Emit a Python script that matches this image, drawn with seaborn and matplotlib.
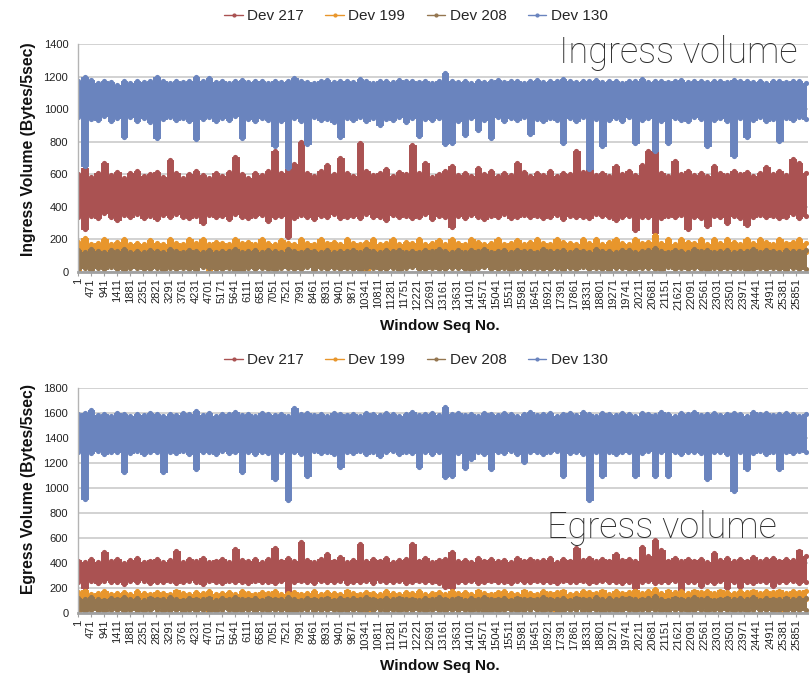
import numpy as np
import pandas as pd
import matplotlib
matplotlib.use("Agg")
import matplotlib.pyplot as plt
from matplotlib.lines import Line2D
import seaborn as sns

devices = ["Dev 217", "Dev 199", "Dev 208", "Dev 130"]
colors = ["#AA5252", "#E8962C", "#947650", "#6A84BE"]

# Each block of 236 windows is summarised by its low and high reading.
block_start = np.arange(1, 26200, 236)
seq_ticks = list(range(1, 25852, 470))

# ---------------- Ingress (Bytes/5sec) ----------------
in_130_hi = [1170, 1195, 1180, 1160, 1175, 1165, 1150, 1170, 1160, 1175, 1165, 1170, 1195, 1170,
             1160, 1175, 1165, 1170, 1195, 1170, 1190, 1165, 1175, 1160, 1170, 1180, 1165, 1175,
             1170, 1160, 1175, 1165, 1170, 1190, 1175, 1165, 1160, 1175, 1180, 1165, 1170, 1175,
             1165, 1185, 1170, 1160, 1175, 1170, 1165, 1180, 1170, 1175, 1165, 1170, 1160, 1175,
             1220, 1175, 1165, 1170, 1160, 1175, 1165, 1170, 1180, 1165, 1175, 1170, 1160, 1175,
             1180, 1165, 1175, 1170, 1185, 1170, 1165, 1175, 1170, 1180, 1165, 1175, 1170, 1160,
             1175, 1170, 1185, 1165, 1175, 1170, 1165, 1175, 1180, 1165, 1170, 1175, 1165, 1175,
             1170, 1165, 1180, 1170, 1175, 1165, 1170, 1160, 1175, 1170, 1165, 1175, 1170, 1160]
in_130_lo = [950, 650, 940, 935, 955, 925, 945, 830, 950, 930, 945, 920, 820, 940,
             950, 935, 945, 925, 815, 940, 950, 930, 945, 935, 955, 820, 940, 925,
             945, 935, 775, 930, 640, 945, 925, 785, 950, 935, 940, 920, 830, 945,
             935, 950, 925, 945, 905, 940, 935, 950, 920, 945, 835, 940, 935, 945,
             785, 795, 930, 840, 945, 870, 935, 820, 950, 925, 945, 935, 950, 850,
             940, 925, 945, 935, 795, 945, 930, 950, 630, 940, 775, 935, 945, 925,
             950, 795, 935, 945, 740, 930, 795, 945, 935, 925, 950, 940, 775, 935,
             945, 930, 710, 945, 830, 935, 950, 925, 940, 805, 945, 935, 950, 940]
in_217_hi = [600, 640, 585, 610, 670, 595, 615, 580, 605, 620, 590, 600, 615, 585,
             690, 610, 580, 600, 620, 595, 575, 610, 590, 615, 705, 600, 580, 610,
             595, 620, 740, 605, 630, 665, 800, 610, 590, 620, 660, 600, 700, 610,
             590, 795, 620, 595, 610, 630, 590, 615, 600, 780, 610, 670, 585, 600,
             620, 650, 595, 610, 590, 640, 600, 620, 590, 610, 595, 670, 615, 590,
             610, 595, 620, 590, 610, 600, 740, 615, 640, 595, 610, 590, 650, 600,
             620, 595, 660, 740, 810, 610, 590, 680, 600, 620, 595, 610, 590, 650,
             610, 595, 620, 600, 615, 590, 610, 645, 600, 620, 595, 695, 670, 610]
in_217_lo = [340, 265, 345, 330, 360, 335, 320, 350, 340, 355, 330, 345, 325, 350,
             335, 355, 340, 330, 345, 300, 350, 335, 345, 325, 355, 340, 330, 345,
             350, 315, 335, 345, 215, 330, 350, 340, 325, 345, 335, 355, 330, 340,
             345, 330, 355, 335, 340, 320, 350, 335, 345, 330, 340, 355, 325, 345,
             335, 275, 345, 330, 350, 340, 325, 345, 335, 355, 330, 340, 350, 335,
             345, 330, 340, 350, 325, 345, 335, 340, 330, 355, 345, 335, 320, 340,
             345, 255, 335, 340, 240, 330, 345, 335, 350, 265, 340, 330, 285, 345,
             335, 300, 345, 330, 290, 340, 350, 335, 345, 330, 340, 355, 330, 345]
in_199_hi = [185, 210, 175, 180, 205, 175, 185, 200, 175, 180, 170, 195, 180, 175,
             205, 180, 175, 200, 180, 205, 175, 185, 180, 175, 200, 180, 185, 170,
             205, 180, 175, 195, 180, 175, 205, 180, 175, 200, 180, 185, 175, 205,
             180, 175, 185, 200, 175, 180, 205, 175, 185, 180, 200, 175, 180, 195,
             175, 205, 180, 175, 200, 185, 175, 180, 205, 175, 180, 195, 175, 185,
             200, 180, 175, 205, 185, 180, 175, 200, 180, 205, 175, 185, 200, 180,
             175, 205, 180, 185, 225, 180, 200, 175, 205, 185, 180, 200, 175, 205,
             180, 200, 185, 175, 205, 180, 200, 185, 175, 205, 180, 185, 200, 180]
in_199_lo = [0, 125, 120, 130, 125, 120, 130, 125, 120, 125, 130, 120, 125, 130,
             120, 125, 130, 120, 125, 130, 0, 125, 120, 130, 125, 120, 130, 125,
             120, 130, 125, 120, 55, 125, 130, 120, 125, 130, 120, 125, 130, 120,
             125, 130, 0, 125, 120, 130, 125, 120, 130, 125, 120, 125, 130, 120,
             130, 120, 125, 130, 120, 125, 130, 120, 125, 130, 120, 125, 130, 125,
             120, 130, 125, 120, 130, 125, 120, 130, 125, 120, 130, 125, 120, 130,
             125, 120, 130, 125, 120, 130, 125, 120, 130, 125, 120, 130, 125, 120,
             130, 125, 120, 130, 125, 120, 130, 125, 120, 130, 125, 120, 130, 125]
in_208_hi = [135, 125, 140, 130, 120, 135, 128, 140, 125, 132, 120, 138, 130, 125,
             140, 128, 122, 135, 130, 125, 138, 120, 132, 128, 140, 125, 130, 135,
             122, 138, 130, 125, 140, 128, 120, 135, 130, 125, 138, 122, 132, 128,
             135, 125, 140, 130, 122, 135, 128, 138, 125, 130, 120, 135, 128, 140,
             130, 125, 138, 122, 135, 128, 140, 125, 130, 135, 122, 138, 128, 130,
             125, 140, 130, 128, 135, 122, 138, 130, 125, 140, 128, 132, 125, 135,
             138, 125, 130, 135, 150, 128, 122, 138, 130, 125, 140, 128, 135, 122,
             130, 138, 125, 132, 128, 140, 122, 135, 130, 125, 138, 128, 132, 135]
in_208_lo = [20, 25, 15, 22, 18, 28, 20, 15, 25, 22, 18, 20, 25, 15,
             22, 18, 25, 20, 15, 28, 22, 18, 20, 25, 0, 0, 22, 18,
             25, 20, 15, 22, 25, 18, 20, 28, 15, 22, 20, 25, 18, 22,
             20, 15, 25, 22, 18, 20, 25, 15, 22, 28, 20, 18, 25, 20,
             18, 22, 25, 20, 15, 22, 28, 18, 20, 25, 15, 22, 20, 18,
             25, 20, 18, 22, 15, 25, 20, 28, 18, 22, 20, 15, 25, 22,
             20, 18, 25, 22, 20, 15, 28, 20, 22, 18, 25, 20, 15, 22,
             18, 25, 20, 22, 15, 20, 25, 18, 22, 20, 15, 25, 20, 18]

# ---------------- Egress (Bytes/5sec) ----------------
eg_130_hi = [1590, 1600, 1625, 1585, 1595, 1580, 1600, 1590, 1575, 1595, 1585, 1600, 1590, 1580,
             1595, 1585, 1600, 1590, 1620, 1585, 1600, 1580, 1595, 1590, 1605, 1585, 1595, 1580,
             1600, 1590, 1585, 1595, 1580, 1640, 1590, 1600, 1585, 1595, 1580, 1600, 1590, 1585,
             1595, 1580, 1600, 1590, 1585, 1600, 1590, 1580, 1595, 1605, 1585, 1590, 1600, 1585,
             1645, 1590, 1600, 1585, 1595, 1580, 1600, 1590, 1585, 1600, 1590, 1580, 1595, 1605,
             1585, 1595, 1600, 1580, 1590, 1600, 1585, 1610, 1595, 1580, 1600, 1590, 1585, 1600,
             1590, 1580, 1600, 1595, 1585, 1605, 1590, 1580, 1600, 1595, 1610, 1585, 1590, 1600,
             1585, 1595, 1600, 1590, 1580, 1605, 1590, 1600, 1585, 1595, 1600, 1590, 1580, 1595]
eg_130_lo = [1290, 910, 1280, 1295, 1270, 1285, 1290, 1130, 1280, 1295, 1275, 1290, 1285, 1130,
             1290, 1280, 1295, 1270, 1150, 1285, 1290, 1275, 1295, 1280, 1290, 1130, 1285, 1275,
             1290, 1280, 1070, 1285, 905, 1290, 1275, 1100, 1295, 1280, 1290, 1270, 1165, 1285,
             1280, 1295, 1275, 1290, 1260, 1285, 1295, 1270, 1290, 1280, 1165, 1290, 1275, 1285,
             1085, 1100, 1280, 1160, 1230, 1290, 1275, 1155, 1290, 1280, 1295, 1270, 1210, 1285,
             1290, 1275, 1285, 1295, 1100, 1280, 1290, 1270, 905, 1285, 1100, 1290, 1275, 1285,
             1290, 1100, 1280, 1295, 1100, 1285, 1095, 1290, 1275, 1285, 1290, 1280, 1075, 1290,
             1285, 1275, 975, 1290, 1150, 1280, 1295, 1270, 1285, 1150, 1290, 1280, 1295, 1285]
eg_217_hi = [420, 405, 430, 410, 490, 415, 435, 400, 425, 440, 410, 420, 430, 405,
             425, 495, 410, 430, 415, 440, 405, 420, 430, 410, 510, 425, 415, 435,
             410, 430, 520, 420, 440, 415, 570, 425, 410, 435, 470, 420, 445, 410,
             425, 550, 415, 430, 420, 440, 410, 425, 435, 550, 420, 440, 410, 425,
             435, 490, 415, 425, 410, 440, 420, 430, 415, 425, 410, 440, 420, 430,
             415, 425, 440, 410, 430, 420, 520, 425, 440, 415, 430, 420, 475, 425,
             430, 415, 530, 455, 585, 505, 420, 440, 415, 430, 420, 435, 410, 480,
             425, 440, 415, 430, 420, 445, 415, 430, 440, 420, 435, 425, 500, 455]
eg_217_lo = [250, 200, 255, 240, 260, 245, 250, 235, 255, 245, 260, 240, 250, 245,
             255, 240, 250, 260, 245, 235, 255, 250, 240, 260, 245, 250, 240, 255,
             245, 250, 240, 255, 160, 245, 260, 250, 240, 255, 245, 250, 260, 240,
             250, 245, 255, 240, 260, 250, 245, 255, 240, 250, 260, 245, 250, 240,
             210, 200, 250, 245, 255, 240, 250, 260, 245, 250, 240, 255, 245, 250,
             255, 245, 250, 240, 255, 250, 245, 260, 240, 250, 255, 245, 250, 240,
             250, 200, 245, 255, 240, 250, 245, 255, 185, 250, 245, 215, 250, 240,
             255, 200, 245, 205, 250, 240, 255, 245, 215, 250, 245, 255, 240, 250]
eg_199_hi = [165, 180, 155, 160, 175, 155, 160, 165, 155, 175, 160, 155, 165, 160,
             155, 180, 160, 155, 165, 160, 175, 155, 160, 165, 155, 175, 160, 155,
             165, 160, 175, 155, 160, 165, 155, 160, 175, 155, 165, 160, 155, 180,
             160, 155, 165, 160, 155, 175, 160, 155, 165, 160, 175, 155, 160, 165,
             155, 175, 160, 165, 155, 180, 160, 155, 165, 175, 160, 155, 180, 160,
             155, 175, 160, 165, 180, 155, 160, 175, 165, 160, 180, 155, 175, 160,
             165, 180, 160, 175, 190, 160, 180, 165, 175, 160, 180, 165, 175, 160,
             180, 165, 160, 175, 165, 180, 160, 175, 165, 180, 160, 175, 165, 180]
eg_199_lo = [0, 110, 105, 115, 110, 105, 115, 110, 105, 110, 115, 105, 110, 115,
             105, 110, 115, 105, 110, 115, 0, 110, 105, 115, 110, 105, 115, 110,
             105, 115, 110, 105, 110, 115, 105, 110, 115, 105, 110, 115, 105, 110,
             115, 105, 0, 110, 115, 105, 110, 115, 105, 110, 115, 105, 110, 115,
             110, 105, 115, 110, 105, 115, 110, 105, 115, 110, 105, 115, 110, 105,
             115, 110, 105, 0, 110, 115, 105, 110, 115, 105, 110, 115, 105, 110,
             105, 115, 110, 105, 115, 110, 105, 115, 110, 105, 115, 110, 105, 115,
             110, 105, 115, 110, 105, 115, 110, 105, 115, 0, 110, 105, 115, 110]
eg_208_hi = [120, 110, 125, 115, 108, 122, 116, 128, 112, 120, 106, 124, 116, 110,
             126, 114, 108, 122, 116, 110, 124, 106, 118, 114, 126, 110, 116, 122,
             108, 124, 116, 112, 126, 114, 106, 122, 116, 110, 124, 108, 118, 114,
             122, 110, 126, 116, 108, 122, 114, 124, 110, 116, 106, 122, 114, 126,
             116, 110, 124, 108, 122, 114, 126, 110, 116, 122, 108, 124, 114, 116,
             110, 126, 116, 114, 122, 108, 124, 116, 110, 126, 114, 118, 110, 122,
             124, 110, 116, 122, 134, 114, 108, 124, 116, 110, 126, 114, 122, 108,
             116, 124, 110, 118, 114, 126, 108, 122, 116, 110, 124, 114, 118, 122]
eg_208_lo = [22, 18, 25, 20, 15, 28, 22, 18, 25, 20, 15, 22, 28, 18,
             20, 25, 0, 22, 18, 25, 20, 15, 28, 22, 18, 20, 25, 0,
             22, 18, 25, 20, 15, 0, 22, 28, 18, 20, 25, 22, 15, 20,
             25, 18, 22, 20, 28, 15, 22, 18, 25, 20, 22, 15, 28, 20,
             18, 25, 20, 22, 15, 28, 0, 20, 18, 25, 22, 15, 20, 28,
             22, 18, 25, 20, 15, 22, 28, 18, 20, 25, 0, 22, 18, 20,
             25, 15, 22, 20, 28, 18, 0, 22, 25, 15, 20, 28, 18, 22,
             20, 25, 15, 22, 18, 28, 20, 25, 15, 22, 18, 20, 25, 22]

ingress = {"Dev 217": (in_217_lo, in_217_hi), "Dev 199": (in_199_lo, in_199_hi),
           "Dev 208": (in_208_lo, in_208_hi), "Dev 130": (in_130_lo, in_130_hi)}
egress = {"Dev 217": (eg_217_lo, eg_217_hi), "Dev 199": (eg_199_lo, eg_199_hi),
          "Dev 208": (eg_208_lo, eg_208_hi), "Dev 130": (eg_130_lo, eg_130_hi)}


def long_form(lo, hi):
    rows = []
    for s, a, b in zip(block_start, lo, hi):
        rows.append((s, a))
        rows.append((s, b))
    return pd.DataFrame(rows, columns=["seq", "volume"])


sns.set_theme(style="white")
plt.rcParams["font.family"] = ["Liberation Sans", "DejaVu Sans"]

W, H = 809, 673
fig = plt.figure(figsize=(W / 100, H / 100), dpi=100)
ax_in = fig.add_axes([78 / W, 1 - 272 / H, 730 / W, 228 / H])
ax_eg = fig.add_axes([78 / W, 1 - 613 / H, 730 / W, 225 / H])

panels = [
    (ax_in, ingress, 1400, "Ingress Volume (Bytes/5sec)", "Ingress volume", (0.986, 0.917), 0.54),
    (ax_eg, egress, 1800, "Egress Volume (Bytes/5sec)", "Egress volume", (0.9575, 0.333), 0.55),
]

handles = [Line2D([0], [0], color=c, lw=1.0, marker="o", markersize=2.0) for c in colors]

for ax, series, ymax, ylab, title, tpos, ylab_y in panels:
    # devices drawn in legend order; each one is a stepped min-max band
    # with round caps on every block's extreme readings
    for dev, c in zip(devices, colors):
        lo, hi = series[dev]
        sub = long_form(lo, hi)
        sns.lineplot(data=sub, x="seq", y="volume", color=c, estimator="mean",
                     errorbar=("pi", 100),
                     err_kws={"alpha": 1.0, "step": "mid", "linewidth": 0.7,
                              "edgecolor": c, "zorder": 2},
                     linewidth=0, legend=False, ax=ax)
        sns.scatterplot(data=sub, x="seq", y="volume", color=c, s=14, linewidth=0,
                        legend=False, ax=ax, zorder=2)
    ax.set_xlim(1, 26280)
    ax.set_ylim(0, ymax)
    ax.set_yticks(range(0, ymax + 1, 200))
    ax.set_xticks(seq_ticks)
    ax.set_xticklabels([str(t) for t in seq_ticks], rotation=90)
    ax.yaxis.grid(True, color="#c6c6c6", lw=1.1)
    ax.xaxis.grid(False)
    ax.set_axisbelow(True)
    for side in ("top", "right"):
        ax.spines[side].set_visible(False)
    ax.spines["left"].set_color("#b4b4b4")
    ax.spines["left"].set_linewidth(1.0)
    ax.spines["bottom"].set_color("#a0a0a0")
    ax.spines["bottom"].set_linewidth(2.0)
    ax.tick_params(axis="x", length=3, width=0.8, color="#a0a0a0", pad=1.5,
                   labelsize=8, labelcolor="#222222", bottom=True)
    ax.tick_params(axis="y", length=0, pad=7, labelsize=8, labelcolor="#222222")
    ax.set_xlabel("Window Seq No.", fontsize=11, fontweight="bold", color="#111111")
    ax.xaxis.set_label_coords(0.496, -0.205)
    ax.set_ylabel(ylab, fontsize=11.3, fontweight="bold", color="#111111")
    ax.yaxis.set_label_coords(-0.058, ylab_y)
    ax.legend(handles, devices, loc="center", bbox_to_anchor=(0.463, 1.123), ncol=4,
              frameon=False, fontsize=11, handlelength=1.2, handletextpad=0.3,
              columnspacing=1.4)
    ax.text(tpos[0], tpos[1], title, transform=ax.transAxes, ha="right", va="baseline",
            fontsize=26, color="#2e2e2e", family=["Roboto", "DejaVu Sans"],
            fontweight="light", zorder=5)

fig.savefig("out.png", dpi=100)
